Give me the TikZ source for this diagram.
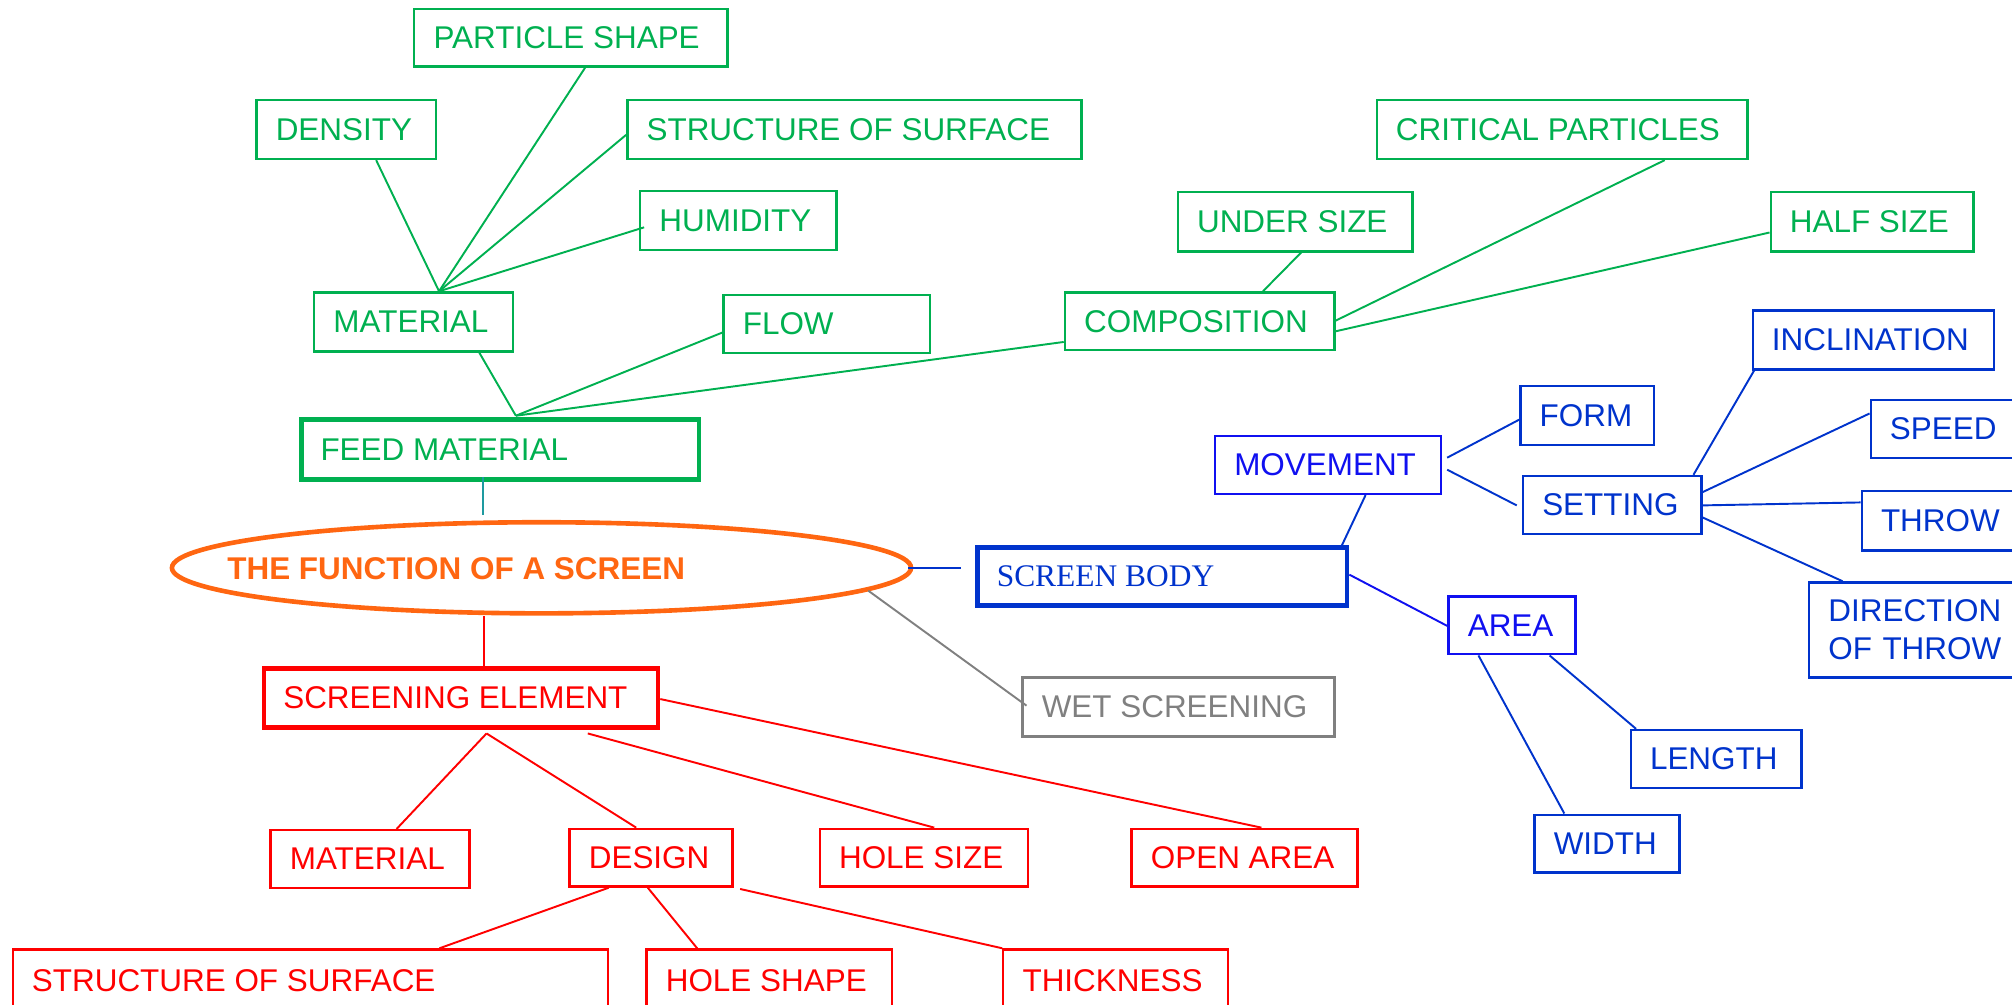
\documentclass[tikz,border=0pt]{standalone}
\usepackage{fontspec}
\setmainfont{Liberation Sans}
\newfontfamily\serifface{Liberation Serif}
\usetikzlibrary{calc,shapes.geometric}
\definecolor{cg}{HTML}{00B050}
\definecolor{cr}{HTML}{FF0000}
\definecolor{cb}{HTML}{0033CC}
\definecolor{cbb}{HTML}{1010F0}
\definecolor{co}{HTML}{FF6611}
\definecolor{cgray}{HTML}{808080}
\definecolor{cteal}{HTML}{1E9AA0}
\newcommand\tb[2]{\makebox[#1pt][l]{#2}}
\begin{document}
\begin{tikzpicture}[x=1pt,y=-1pt,
  font=\fontsize{24.5}{29.5}\selectfont,
  box/.style={draw, line width=1.8pt, anchor=north west, inner xsep=15pt, inner ysep=0pt, minimum height=45pt},
  thickbox/.style={box, line width=3.6pt},
  gbox/.style={box, draw=cg, text=cg},
  rbox/.style={box, draw=cr, text=cr},
  bbox/.style={box, draw=cb, text=cb},
  gline/.style={draw=cg, line width=1.5pt},
  rline/.style={draw=cr, line width=1.5pt},
  bline/.style={draw=cb, line width=1.5pt}]
\useasboundingbox (0,0) rectangle (1568,783);
\clip (0,0) rectangle (1568,783);

% ---------- green: feed material ----------
\node[gbox] (ps) at (322,6) {\tb{214}{PARTICLE SHAPE}};
\node[gbox, minimum height=46pt] (den) at (199,77) {\tb{110}{DENSITY}};
\node[gbox, minimum height=46pt] (sos) at (488,77) {\tb{324}{STRUCTURE OF SURFACE}};
\node[gbox, minimum height=46pt] (hum) at (498,148) {\tb{123}{HUMIDITY}};
\node[gbox, minimum height=46pt] (matg) at (244,227) {\tb{125}{MATERIAL}};
\node[gbox] (flow) at (563,229) {\tb{131}{FLOW}};
\node[gbox] (comp) at (829,227) {\tb{180}{COMPOSITION}};
\node[gbox, minimum height=46pt] (us) at (917,149) {\tb{153}{UNDER SIZE}};
\node[gbox, minimum height=46pt] (cp) at (1072,77) {\tb{259}{CRITICAL PARTICLES}};
\node[gbox, minimum height=46pt] (hs) at (1379,149) {\tb{128}{HALF SIZE}};
\node[gbox, thickbox, minimum height=47pt] (feed) at (233,325) {\tb{280}{FEED MATERIAL}};

\coordinate (mh) at ($(matg.north west)!0.626!(matg.north east)$);
\draw[gline] (mh) -- ($(den.south west)!0.664!(den.south east)$);
\draw[gline] (mh) -- ($(ps.south west)!0.545!(ps.south east)$);
\draw[gline] (mh) -- ($(sos.north west)!0.587!(sos.south west)$);
\draw[gline] (mh) -- ($(hum.north west)!0.61!(hum.south west)+(4,0)$);
\coordinate (fh) at ($(feed.north west)!0.539!(feed.north east)+(0,-1)$);
\draw[gline] (fh) -- ($(matg.south west)!0.826!(matg.south east)$);
\draw[gline] (fh) -- ($(flow.north west)!0.644!(flow.south west)$);
\draw[gline] (fh) -- ($(comp.north west)!0.844!(comp.south west)$);
\draw[gline] ($(comp.north west)!0.733!(comp.north east)$) -- ($(us.south west)!0.525!(us.south east)$);
\draw[gline] ($(comp.north east)!0.49!(comp.south east)$) -- ($(cp.south west)!0.775!(cp.south east)$);
\draw[gline] ($(comp.north east)!0.667!(comp.south east)$) -- ($(hs.north west)!0.674!(hs.south west)$);

% ---------- centre ----------
\node[draw=co, line width=3.6pt, ellipse, minimum width=576pt, minimum height=71pt, inner sep=0pt] (fn) at (422,442.5) {};
\node[anchor=west, inner sep=0pt, text=co, font=\fontsize{24.5}{29.5}\selectfont\bfseries] (ttl) at (177,443) {THE FUNCTION OF A SCREEN};

\coordinate (ta) at ($(feed.south west)!0.458!(feed.south east)+(0,-4)$);
\draw[draw=cteal, line width=1.4pt] (ta) -- ($(ta |- fn.north)+(0,-4)$);

% ---------- grey ----------
\node[box, draw=cgray, text=cgray, minimum height=46pt] (wet) at (796,527) {\tb{213}{WET SCREENING}};
\draw[draw=cgray, line width=1.5pt] (fn.-4) -- ($(wet.north west)!0.48!(wet.south west)+(4,0)$);

% ---------- red: screening element ----------
\node[rbox, thickbox, minimum height=46pt] (se) at (204,519) {\tb{277}{SCREENING ELEMENT}};
\node[rbox] (matr) at (210,646) {\tb{125}{MATERIAL}};
\node[rbox] (des) at (443,645) {\tb{97}{DESIGN}};
\node[rbox] (hsz) at (638,645) {\tb{132}{HOLE SIZE}};
\node[rbox] (oa) at (881,645) {\tb{146}{OPEN AREA}};
\node[rbox, minimum height=48pt] (sosr) at (9,739) {\tb{434}{STRUCTURE OF SURFACE}};
\node[rbox, minimum height=48pt] (hsh) at (503,739) {\tb{161}{HOLE SHAPE}};
\node[rbox, minimum height=48pt] (thk) at (781,739) {\tb{145}{THICKNESS}};

\coordinate (st) at ($(se.north west)!0.557!(se.north east)$);
\draw[rline] (st) -- (st |- fn.south);
\coordinate (sh) at ($(se.south west)!0.564!(se.south east)+(0,3)$);
\draw[rline] (sh) -- ($(matr.north west)!0.632!(matr.north east)$);
\draw[rline] (sh) -- ($(des.north west)!0.41!(des.north east)$);
\draw[rline] ($(se.south west)!0.818!(se.south east)+(0,3)$) -- ($(hsz.north west)!0.55!(hsz.north east)$);
\draw[rline] ($(se.north east)!0.52!(se.south east)$) -- ($(oa.north west)!0.574!(oa.north east)$);
\draw[rline] ($(des.south west)!0.244!(des.south east)$) -- ($(sosr.north west)!0.716!(sosr.north east)$);
\draw[rline] ($(des.south west)!0.48!(des.south east)$) -- ($(hsh.north west)!0.209!(hsh.north east)$);
\draw[rline] ($(des.south east)+(5,1)$) -- (thk.north west);

% ---------- blue: screen body ----------
\node[bbox, thickbox] (sb) at (760,425) {\serifface\tb{258}{SCREEN BODY}};
\node[box, draw=cbb, text=cbb] (mov) at (946,339) {\tb{146}{MOVEMENT}};
\node[bbox, minimum height=46pt] (form) at (1184,300) {\tb{74}{FORM}};
\node[bbox] (set) at (1186,370) {\tb{109}{SETTING}};
\node[bbox, minimum height=46pt] (inc) at (1365,241) {\tb{158}{INCLINATION}};
\node[bbox] (spd) at (1457,311) {\tb{130}{SPEED}};
\node[bbox, minimum height=46pt] (thr) at (1450,382) {\tb{130}{THROW}};
\node[bbox, minimum height=74pt, text width=170pt, align=left] (dir) at (1409,453) {DIRECTION\\OF THROW};
\node[box, draw=cbb, text=cbb] (area) at (1128,464) {\tb{69}{AREA}};
\node[bbox] (len) at (1270,568) {\tb{103}{LENGTH}};
\node[bbox] (wid) at (1195,634) {\tb{83}{WIDTH}};

\coordinate (fe) at ($(fn.east)+(-4,0)$);
\draw[draw=cb, line width=2pt] (fe) -- ($(fe -| sb.west)+(-11,0)$);
\draw[bline] ($(mov.south west)!0.665!(mov.south east)$) -- ($(sb.north west)!0.98!(sb.north east)$);
\draw[bline] ($(mov.north east)!0.378!(mov.south east)+(4,0)$) -- ($(form.north west)!0.565!(form.south west)$);
\draw[bline] ($(mov.north east)!0.578!(mov.south east)+(4,0)$) -- ($(set.north west)!0.51!(set.south west)+(-4,0)$);
\draw[bline] ($(set.north west)!0.95!(set.north east)$) -- ($(inc.south west)+(2,0)$);
\draw[bline] ($(set.north east)!0.29!(set.south east)$) -- ($(spd.north west)!0.24!(spd.south west)$);
\draw[bline] ($(set.north east)!0.51!(set.south east)$) -- ($(thr.north west)!0.2!(thr.south west)$);
\draw[bline] ($(set.north east)!0.71!(set.south east)$) -- ($(dir.north west)+(27,0)$);
\draw[draw=cbb, line width=1.5pt] ($(sb.north east)!0.47!(sb.south east)$) -- ($(area.north west)!0.51!(area.south west)$);
\draw[bline] ($(area.south west)!0.24!(area.south east)$) -- ($(wid.north west)!0.21!(wid.north east)$);
\draw[bline] ($(area.south west)!0.79!(area.south east)$) -- ($(len.north west)+(5,0)$);
\end{tikzpicture}
\end{document}
